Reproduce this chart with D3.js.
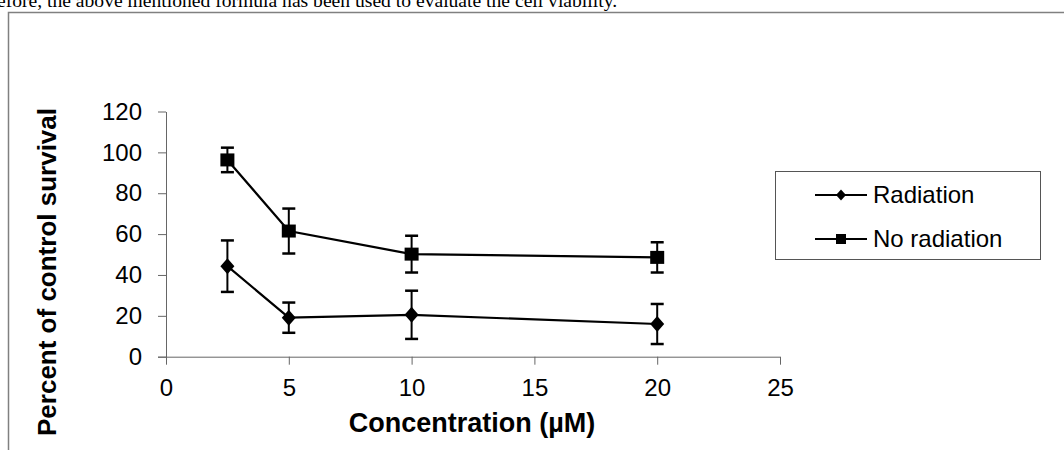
<!DOCTYPE html>
<html>
<head>
<meta charset="utf-8">
<script src="https://cdn.jsdelivr.net/npm/d3@7"></script>
<style>
  body { margin: 0; background: #fff; }
  svg { display: block; }
</style>
</head>
<body>
<script>
var width = 1064,
    height = 450;

// values
var concentrations = [2.5, 5, 10, 20];
var radiation = [44.3, 19.1, 20.5, 16.0];
var radiationErr = [12.6, 7.4, 11.8, 9.8];
var noRadiation = [96.3, 61.5, 50.2, 48.6];
var noRadiationErr = [6.0, 11.0, 9.0, 7.4];
var xTicks = [0, 5, 10, 15, 20, 25];
var yTicks = [0, 20, 40, 60, 80, 100, 120];
var seriesNames = ["Radiation", "No radiation"];

var svg = d3.select("body").append("svg")
    .attr("width", width)
    .attr("height", height);

// bit of the document text above the chart, cut off by the page top
svg.append("text")
    .attr("x", -3)
    .attr("y", 7)
    .attr("font-family", "Liberation Serif, Times New Roman, serif")
    .attr("font-size", 19.6)
    .text("efore, the above mentioned formula has been used to evaluate the cell viability.");

// chart frame (only left and top show)
svg.append("path")
    .attr("d", "M8.5 " + (height + 2) + " L8.5 12.5 L" + (width + 2) + " 12.5")
    .attr("fill", "none")
    .attr("stroke", "#808080")
    .attr("stroke-width", 1.5);

var x = d3.scaleLinear().domain([0, 25]).range([166, 780]);
var y = d3.scaleLinear().domain([0, 120]).range([356.7, 111.5]);

var axisColor = "#666";

// y axis
var yAxis = svg.append("g")
    .attr("transform", "translate(" + x(0) + ",0)")
    .call(d3.axisLeft(y).tickValues(yTicks).tickSize(8).tickSizeOuter(0).tickPadding(16));
yAxis.select(".domain").attr("stroke", axisColor);
yAxis.selectAll(".tick line").attr("stroke", axisColor);
yAxis.selectAll("text")
    .attr("font-family", "Liberation Sans, Arial, sans-serif")
    .attr("font-size", 24)
    .attr("fill", "#000");

// x axis
var xAxis = svg.append("g")
    .attr("transform", "translate(0," + y(0) + ")")
    .call(d3.axisBottom(x).tickValues(xTicks).tickSize(8).tickSizeOuter(0).tickPadding(14));
xAxis.select(".domain").attr("stroke", axisColor).attr("d", "M158,0.5H" + x(25));
xAxis.selectAll(".tick line").attr("stroke", axisColor);
xAxis.selectAll("text")
    .attr("font-family", "Liberation Sans, Arial, sans-serif")
    .attr("font-size", 24)
    .attr("fill", "#000");

// axis titles
svg.append("text")
    .attr("x", 472)
    .attr("y", 432)
    .attr("text-anchor", "middle")
    .attr("font-family", "Liberation Sans, Arial, sans-serif")
    .attr("font-weight", "bold")
    .attr("font-size", 27)
    .text("Concentration (µM)");

svg.append("text")
    .attr("transform", "translate(56,272) rotate(-90)")
    .attr("text-anchor", "middle")
    .attr("font-family", "Liberation Sans, Arial, sans-serif")
    .attr("font-weight", "bold")
    .attr("font-size", 26)
    .text("Percent of control survival");

var line = d3.line()
    .x(function (d) { return x(d.x); })
    .y(function (d) { return y(d.y); });

function drawSeries(vals, errs, marker) {
    var pts = concentrations.map(function (c, i) {
        return { x: c, y: vals[i], e: errs[i] };
    });
    var g = svg.append("g");

    // error bars
    var eb = g.selectAll(".err").data(pts).enter().append("g");
    eb.append("line")
        .attr("x1", function (d) { return x(d.x); })
        .attr("x2", function (d) { return x(d.x); })
        .attr("y1", function (d) { return y(d.y - d.e); })
        .attr("y2", function (d) { return y(d.y + d.e); })
        .attr("stroke", "#000").attr("stroke-width", 2);
    [-1, 1].forEach(function (s) {
        eb.append("line")
            .attr("x1", function (d) { return x(d.x) - 6.5; })
            .attr("x2", function (d) { return x(d.x) + 6.5; })
            .attr("y1", function (d) { return y(d.y + s * d.e); })
            .attr("y2", function (d) { return y(d.y + s * d.e); })
            .attr("stroke", "#000").attr("stroke-width", 2.5);
    });

    g.append("path")
        .datum(pts)
        .attr("d", line)
        .attr("fill", "none")
        .attr("stroke", "#000")
        .attr("stroke-width", 2.2);

    g.selectAll(".mk").data(pts).enter().append("path")
        .attr("transform", function (d) { return "translate(" + x(d.x) + "," + y(d.y) + ")"; })
        .attr("d", marker)
        .attr("fill", "#000");
}

var diamond = "M0 -8 L7 0 L0 8 L-7 0 Z";
var square = "M-7 -6.5 H7 V6.5 H-7 Z";

drawSeries(radiation, radiationErr, diamond);
drawSeries(noRadiation, noRadiationErr, square);

// legend
var legend = svg.append("g");
legend.append("rect")
    .attr("x", 775.5).attr("y", 171.5)
    .attr("width", 265).attr("height", 88)
    .attr("fill", "#fff")
    .attr("stroke", "#555")
    .attr("stroke-width", 1);

var legMarkers = ["M0 -5.5 L5 0 L0 5.5 L-5 0 Z", "M-5 -5 H5 V5 H-5 Z"];
var legY = [195, 239];
seriesNames.forEach(function (name, i) {
    legend.append("line")
        .attr("x1", 815).attr("x2", 867)
        .attr("y1", legY[i]).attr("y2", legY[i])
        .attr("stroke", "#000").attr("stroke-width", 2.2);
    legend.append("path")
        .attr("transform", "translate(841," + legY[i] + ")")
        .attr("d", legMarkers[i])
        .attr("fill", "#000");
    legend.append("text")
        .attr("x", 873)
        .attr("y", legY[i])
        .attr("dy", "0.35em")
        .attr("font-family", "Liberation Sans, Arial, sans-serif")
        .attr("font-size", 24)
        .text(name);
});
</script>
</body>
</html>
